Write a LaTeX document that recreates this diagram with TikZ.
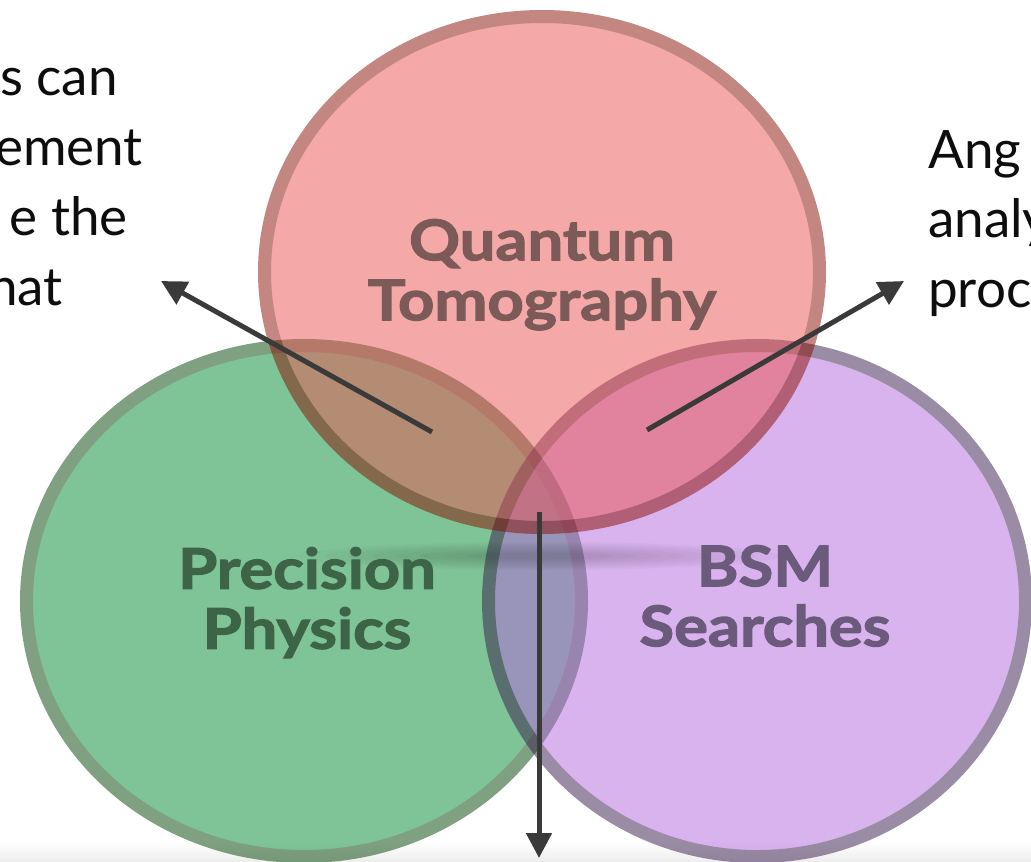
\documentclass[tikz,border=0pt]{standalone}
\usepackage{fontspec}
\setmainfont{Lato}
\newfontfamily\labfont{Lato}[BoldFeatures={FakeStretch=1.13,FakeBold=2.2}]
\usetikzlibrary{arrows.meta}
\definecolor{redfill}{RGB}{233,83,81}
\definecolor{redline}{RGB}{137,13,1}
\definecolor{greenfill}{RGB}{0,137,47}
\definecolor{greenline}{RGB}{1,65,5}
\definecolor{purplefill}{RGB}{179,103,221}
\definecolor{purpleline}{RGB}{55,25,75}
\definecolor{redlab}{RGB}{123,90,88}
\definecolor{greenlab}{RGB}{62,100,72}
\definecolor{purplelab}{RGB}{107,90,123}
\definecolor{arrowgray}{RGB}{58,58,58}
\tikzset{
  ring/.style={line width=13pt},
  lab/.style={font=\labfont\bfseries\fontsize{56}{60}\selectfont, align=center, inner sep=0pt, anchor=north},
  body/.style={font=\fontsize{53}{70}\selectfont, text=black!95, inner sep=0pt},
  pointer/.style={draw=arrowgray, line width=5pt, -{Triangle[length=25pt,width=25pt]}}
}
\begin{document}
\begin{tikzpicture}[x=1pt,y=-1pt]
\useasboundingbox (0,0) rectangle (1031,862);
\clip (0,0) rectangle (1031,862);
\shade[top color=white, bottom color=black!7] (0,842) rectangle (1031,862);
% circles
\begin{scope}[transparency group, opacity=0.5]
  \filldraw[fill=greenfill, draw=greenline, ring] (304,601) ellipse [x radius=277.5pt, y radius=255.5pt];
\end{scope}
\begin{scope}[transparency group, opacity=0.5]
  \filldraw[fill=purplefill, draw=purpleline, ring] (757,601) ellipse [x radius=268.5pt, y radius=255.5pt];
\end{scope}
% soft shadow below the red circle
\foreach \i in {0,...,7} {
  \fill[black, opacity=0.022] (540,556) ellipse [x radius={240pt-24pt*\i}, y radius={14pt-1.5pt*\i}];
}
\begin{scope}[transparency group, opacity=0.5]
  \filldraw[fill=redfill, draw=redline, ring] (542,272) ellipse [x radius=277.5pt, y radius=255.5pt];
\end{scope}
% labels
\node[lab, text=redlab] (qt) at (542,219) {Quantum\\Tomography};
\node[lab, text=greenlab] (pp) at (307,547) {Precision\\Physics};
\node[lab, text=purplelab] (bsm) at (765,545) {BSM\\Searches};
% side texts
\node[body, anchor=base east] (l1) at (118,95) {s can};
\node[body, anchor=base east] (l2) at (143,165) {ement};
\node[body, anchor=base east] (l3) at (128,235) {e the};
\node[body, anchor=base east] (l4) at (63,305) {hat};
\node[body, anchor=base west] (r1) at (928,168) {Ang};
\node[body, anchor=base west] (r2) at (928,237) {analy};
\node[body, anchor=base west] (r3) at (928,307) {proc};
% arrows
\coordinate (qpS) at (432,432);
\coordinate (qpT) at (161,281);
\coordinate (qbS) at (647,430);
\coordinate (qbT) at (904,281);
\coordinate (cS) at (539,512);
\coordinate (cT) at (539,858);
\draw[pointer] (qpS) -- (qpT);
\draw[pointer] (qbS) -- (qbT);
\draw[pointer] (cS) -- (cT);
\end{tikzpicture}
\end{document}
